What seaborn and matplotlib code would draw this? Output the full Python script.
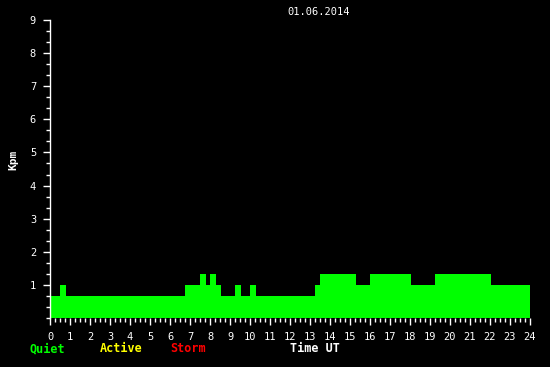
import matplotlib
matplotlib.use("Agg")
import matplotlib.pyplot as plt
import seaborn as sns
import numpy as np
from matplotlib.ticker import MultipleLocator

# Data: Kpm step segments (hours UT)
edges = [0, 0.5, 0.8, 6.75, 7.5, 7.8, 8.0, 8.3, 8.55, 9.25, 9.55, 10.0, 10.3,
         13.25, 13.5, 15.3, 16.0, 18.05, 19.25, 22.05, 24.0]
kpm = [0.667, 1.0, 0.667, 1.0, 1.333, 1.0, 1.333, 1.0, 0.667, 1.0, 0.667, 1.0,
       0.667, 1.0, 1.333, 1.0, 1.333, 1.0, 1.333, 1.0]
x_ticks = list(range(0, 25))
y_ticks = list(range(1, 10))
title = "01.06.2014"

sns.set_style("dark")
plt.rcParams['font.family'] = ['DejaVu Sans Mono', 'DejaVu Sans']

fig = plt.figure(figsize=(5.5, 3.67), dpi=100, facecolor="black")
ax = fig.add_axes([50/550, 1-318/367, 480/550, 298/367])
ax.set_facecolor("black")

mids = [(edges[i] + edges[i+1]) / 2 for i in range(len(kpm))]
sns.histplot(x=mids, weights=kpm, bins=edges, ax=ax, color="#00ff00",
             alpha=1, linewidth=0, edgecolor="none", element="bars", fill=True)

ax.set_xlim(0, 24)
ax.set_ylim(0, 9)
ax.set_xticks(x_ticks)
ax.set_xticklabels([str(t) for t in x_ticks])
ax.set_yticks(y_ticks)
ax.set_yticklabels([str(t) for t in y_ticks])
ax.xaxis.set_minor_locator(MultipleLocator(0.25))
ax.yaxis.set_minor_locator(MultipleLocator(1/3))
ax.tick_params(axis="both", which="major", direction="out", length=5, width=1,
               color="white", labelcolor="white", labelsize=7.5, pad=5, bottom=True, left=True)
ax.tick_params(axis="both", which="minor", direction="out", length=3, width=1,
               color="white", bottom=True, left=True)
ax.set_xlabel("")
ax.set_ylabel("")
ax.grid(False)
for s in ["top", "right", "bottom"]:
    ax.spines[s].set_visible(False)
ax.spines["left"].set_color("white")
ax.spines["left"].set_linewidth(1)

fig.text(319/550, 1-12/367, title, color="white", fontsize=7.5, ha="center", va="center")
fig.text(13/550, 1-160/367, "Kpm", color="white", fontsize=8, fontweight="bold",
         rotation=90, ha="center", va="center")
fig.text(30/550, 1-349/367, "Quiet", color="#00ff00", fontsize=8.5, fontweight="bold", va="center")
fig.text(100/550, 1-349/367, "Active", color="#ffff00", fontsize=8.5, fontweight="bold", va="center")
fig.text(170/550, 1-349/367, "Storm", color="#ff0000", fontsize=8.5, fontweight="bold", va="center")
fig.text(290/550, 1-349/367, "Time UT", color="white", fontsize=8.5, fontweight="bold", va="center")

fig.savefig("out.png", dpi=100, facecolor="black")
